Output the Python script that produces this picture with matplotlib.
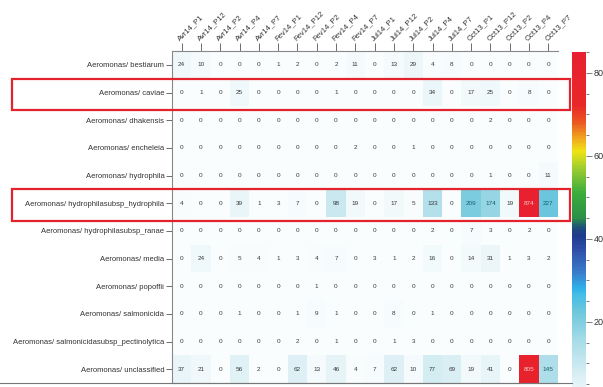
import numpy as np
import matplotlib.pyplot as plt
from matplotlib.colors import LinearSegmentedColormap
from matplotlib.patches import Rectangle
from matplotlib.lines import Line2D
from matplotlib.ticker import MultipleLocator
import matplotlib.transforms as mtransforms

plt.rcParams['font.family'] = ['Liberation Sans', 'DejaVu Sans']

samples = ["Avr14_P1", "Avr14_P12", "Avr14_P2", "Avr14_P4", "Avr14_P7",
           "Fev14_P1", "Fev14_P12", "Fev14_P2", "Fev14_P4", "Fev14_P7",
           "Jul14_P1", "Jul14_P12", "Jul14_P2", "Jul14_P4", "Jul14_P7",
           "Oct13_P1", "Oct13_P12", "Oct13_P2", "Oct13_P4", "Oct13_P7"]

taxa = ["Aeromonas/ bestiarum",
        "Aeromonas/ caviae",
        "Aeromonas/ dhakensis",
        "Aeromonas/ encheleia",
        "Aeromonas/ hydrophila",
        "Aeromonas/ hydrophilasubsp_hydrophila",
        "Aeromonas/ hydrophilasubsp_ranae",
        "Aeromonas/ media",
        "Aeromonas/ popoffii",
        "Aeromonas/ salmonicida",
        "Aeromonas/ salmonicidasubsp_pectinolytica",
        "Aeromonas/ unclassified"]

bestiarum = [24, 10, 0, 0, 0, 1, 2, 0, 2, 11, 0, 13, 29, 4, 8, 0, 0, 0, 0, 0]
caviae = [0, 1, 0, 25, 0, 0, 0, 0, 1, 0, 0, 0, 0, 34, 0, 17, 25, 0, 8, 0]
dhakensis = [0, 0, 0, 0, 0, 0, 0, 0, 0, 0, 0, 0, 0, 0, 0, 0, 2, 0, 0, 0]
encheleia = [0, 0, 0, 0, 0, 0, 0, 0, 0, 2, 0, 0, 1, 0, 0, 0, 0, 0, 0, 0]
hydrophila = [0, 0, 0, 0, 0, 0, 0, 0, 0, 0, 0, 0, 0, 0, 0, 0, 1, 0, 0, 11]
hydrophila_hydrophila = [4, 0, 0, 39, 1, 3, 7, 0, 98, 19, 0, 17, 5, 133, 0, 209, 174, 19, 874, 227]
hydrophila_ranae = [0, 0, 0, 0, 0, 0, 0, 0, 0, 0, 0, 0, 0, 2, 0, 7, 3, 0, 2, 0]
media = [0, 24, 0, 5, 4, 1, 3, 4, 7, 0, 3, 1, 2, 16, 0, 14, 31, 1, 3, 2]
popoffii = [0, 0, 0, 0, 0, 0, 0, 1, 0, 0, 0, 0, 0, 0, 0, 0, 0, 0, 0, 0]
salmonicida = [0, 0, 0, 1, 0, 0, 1, 9, 1, 0, 0, 8, 0, 1, 0, 0, 0, 0, 0, 0]
pectinolytica = [0, 0, 0, 0, 0, 0, 2, 0, 1, 0, 0, 1, 3, 0, 0, 0, 0, 0, 0, 0]
unclassified = [37, 21, 0, 56, 2, 0, 62, 13, 46, 4, 7, 62, 10, 77, 69, 19, 41, 0, 805, 145]

highlighted = ["Aeromonas/ caviae", "Aeromonas/ hydrophilasubsp_hydrophila"]

counts = np.array([bestiarum, caviae, dhakensis, encheleia, hydrophila,
                   hydrophila_hydrophila, hydrophila_ranae, media, popoffii,
                   salmonicida, pectinolytica, unclassified])

vmax = 850
cmap = LinearSegmentedColormap.from_list("abund", [
    (0.00, "#fafdfe"), (0.07, "#dff1f6"), (0.18, "#a8dce8"), (0.26, "#6fc8dc"),
    (0.31, "#46bde6"), (0.33, "#2fb0e8"), (0.38, "#3a78c8"), (0.44, "#2f4ea8"),
    (0.48, "#1f3a8c"), (0.50, "#1e4a7e"), (0.53, "#2a9048"), (0.60, "#3aac3c"),
    (0.67, "#9ccc30"), (0.72, "#f0e414"), (0.76, "#f0a020"), (0.80, "#ec5a22"),
    (0.85, "#e82828"), (1.00, "#e82030")])

fig = plt.figure(figsize=(6.03, 3.87), dpi=100)
W, H = 603, 387
ax = fig.add_axes([172 / W, 4 / H, 386 / W, 332 / H])
im = ax.imshow(counts, cmap=cmap, vmin=0, vmax=vmax, aspect="auto",
               interpolation="nearest")

for i in range(counts.shape[0]):
    for j in range(counts.shape[1]):
        v = counts[i, j]
        if v >= 600:
            c = "#f6c8c8"
        elif v >= 140:
            c = "#16606c"
        else:
            c = "#3a3a3a"
        ax.text(j, i, str(v), ha="center", va="center", fontsize=4.6, color=c)

ax.xaxis.tick_top()
ax.set_xticks(range(len(samples)))
ax.set_xticklabels(samples, rotation=45, ha="left", va="bottom",
                   rotation_mode="anchor", fontsize=5.5, color="#333333")
ax.set_yticks(range(len(taxa)))
ax.set_yticklabels(taxa, fontsize=5.5, color="#333333")
ax.tick_params(axis="x", length=5.5, width=0.6, color="#555555", pad=1)
ax.tick_params(axis="y", length=4, width=0.6, color="#555555", pad=1.5)
for s in ax.spines.values():
    s.set_color("#888888")
    s.set_linewidth(0.8)
ax.spines["right"].set_visible(False)

# colorbar, running past the bottom edge of the figure
cax = fig.add_axes([572 / W, (H - 405) / H, 14 / W, 353 / H])
cb = fig.colorbar(im, cax=cax)
cb.outline.set_visible(False)
cb.set_ticks([200, 400, 600, 800])
cax.yaxis.set_minor_locator(MultipleLocator(50))
cax.tick_params(which="major", length=4, width=0.6, color="#666666",
                labelsize=6.5, labelcolor="#333333", pad=1.5)
cax.tick_params(which="minor", length=2.5, width=0.6, color="#666666")

# red boxes around the highlighted rows
trans = mtransforms.blended_transform_factory(fig.transFigure, ax.transData)
for name in highlighted:
    r = taxa.index(name)
    fig.add_artist(Rectangle((12 / W, r - 0.5), 558 / W, 1.15, transform=trans,
                             fill=False, edgecolor="#e3222b", linewidth=1.6,
                             clip_on=False))

fig.add_artist(Line2D([0, 572 / W], [4 / H, 4 / H], color="#777777", linewidth=0.8))

fig.savefig("out.png", dpi=100)
